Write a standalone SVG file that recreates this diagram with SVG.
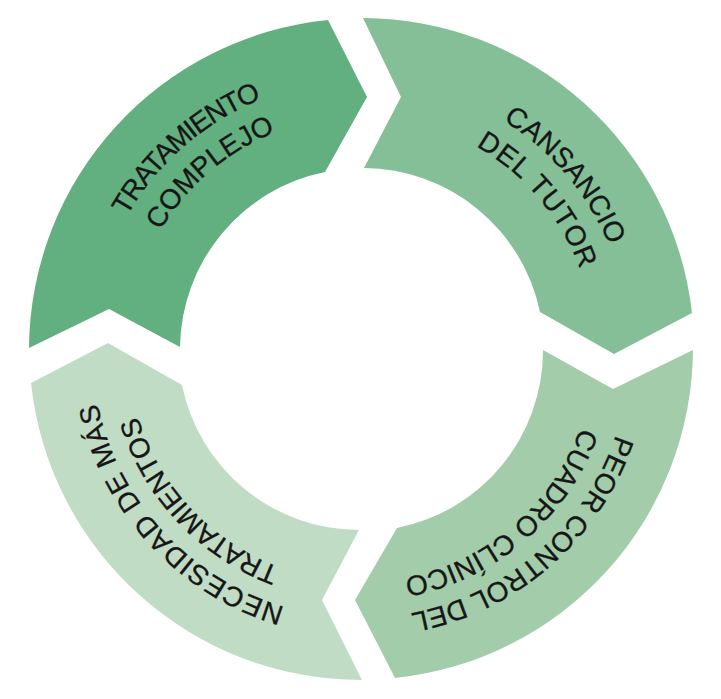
<svg xmlns="http://www.w3.org/2000/svg" width="721" height="699" viewBox="0 0 721 699">
  <style>
    .lbl { font-family: "Liberation Sans", Arial, sans-serif; font-size: 28px; fill: #161616; stroke: #161616; stroke-width: 0.3px; text-anchor: middle; }
    .sA { fill: #62b07f; }
    .sB { fill: #84bf97; }
    .sC { fill: #a2ccaa; }
    .sD { fill: #c0dcc5; }
  </style>
  <defs>
    <path id="r1" d="M361,618 A269,269 0 1 1 361,80 A269,269 0 1 1 361,618"/>
    <path id="r2" d="M361,582 A233,233 0 1 1 361,116 A233,233 0 1 1 361,582"/>
  </defs>
  <rect width="721" height="699" fill="#ffffff"/>
  <g id="connectors"/>
  <g id="node-tratamiento">
    <path class="sA" d="M29,348 A332,332 0 0 1 328,20 L367,97 L325,172 A181,181 0 0 0 180,347 L109,309 Z"/>
    <text class="lbl" transform="rotate(-41.2 361 349)" letter-spacing="-1.4"><textPath href="#r1" startOffset="50%">TRATAMIENTO</textPath></text>
    <text class="lbl" transform="rotate(-40.5 361 349)"><textPath href="#r2" startOffset="50%">COMPLEJO</textPath></text>
  </g>
  <g id="node-cansancio">
    <path class="sB" d="M363,18 A332,332 0 0 1 692,313 L614,354 L540,312 A181,181 0 0 0 364,168 L401,97 Z"/>
    <text class="lbl" transform="rotate(49.6 361 349)"><textPath href="#r1" startOffset="50%">CANSANCIO</textPath></text>
    <text class="lbl" transform="rotate(49.9 361 349)" letter-spacing="1"><textPath href="#r2" startOffset="50%">DEL TUTOR</textPath></text>
  </g>
  <g id="node-peor">
    <path class="sC" d="M693,350 A332,332 0 0 1 395,678 L355,600 L397,528 A181,181 0 0 0 543,350 L613,389 Z"/>
    <text class="lbl" transform="rotate(139 361 349)"><textPath href="#r1" startOffset="50%">PEOR CONTROL DEL</textPath></text>
    <text class="lbl" transform="rotate(139.5 361 349)"><textPath href="#r2" startOffset="50%">CUADRO CLÍNICO</textPath></text>
  </g>
  <g id="node-necesidad">
    <path class="sD" d="M362,680 A332,332 0 0 1 31,383 L108,343 L182,385 A181,181 0 0 0 359,530 L322,600 Z"/>
    <text class="lbl" transform="rotate(227.5 361 349)" letter-spacing="0.8"><textPath href="#r1" startOffset="50%">NECESIDAD DE MÁS</textPath></text>
    <text class="lbl" transform="rotate(226.8 361 349)"><textPath href="#r2" startOffset="50%">TRATAMIENTOS</textPath></text>
  </g>
</svg>
